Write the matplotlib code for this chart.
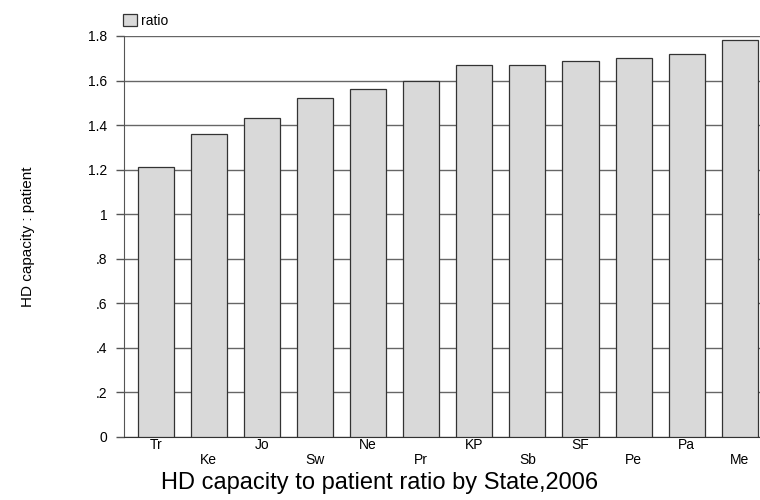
import matplotlib.pyplot as plt
import numpy as np

plt.rcParams['font.family'] = ['Liberation Sans', 'DejaVu Sans']

states = ["Tr", "Ke", "Jo", "Sw", "Ne", "Pr", "KP", "Sb", "SF", "Pe", "Pa", "Me"]
ratio = [1.21, 1.36, 1.43, 1.52, 1.56, 1.60, 1.67, 1.67, 1.69, 1.70, 1.72, 1.78]
yticks = [0, 0.2, 0.4, 0.6, 0.8, 1.0, 1.2, 1.4, 1.6, 1.8]
ytick_labels = ["0", ".2", ".4", ".6", ".8", "1", "1.2", "1.4", "1.6", "1.8"]

fig = plt.figure(figsize=(7.6, 5), dpi=100)
ax = fig.add_axes([0.163, 0.126, 0.837, 0.802])

x = np.arange(len(states))
ax.bar(x, ratio, width=0.68, color="#d9d9d9", edgecolor="#333333",
       linewidth=0.9, zorder=3, label="ratio")

ax.set_xlim(-0.6, 11.38)
ax.set_ylim(0, 1.8)
ax.set_yticks(yticks)
ax.set_yticklabels(ytick_labels, fontsize=10)
ax.set_xticks(x)
ax.set_xticklabels([s if i % 2 == 0 else "\n" + s for i, s in enumerate(states)],
                   fontsize=10, linespacing=1.1)
ax.tick_params(axis="x", length=0, pad=1)
ax.tick_params(axis="y", length=6, width=1, color="#555555", pad=6)

ax.grid(axis="y", color="#666666", linewidth=1, zorder=0)
for side in ["top", "right"]:
    ax.spines[side].set_visible(False)
ax.spines["left"].set_color("#555555")
ax.spines["bottom"].set_color("#333333")

ax.set_ylabel("HD capacity : patient", fontsize=11, labelpad=38)
fig.text(0.5, 0.035, "HD capacity to patient ratio by State,2006",
         ha="center", va="center", fontsize=17)

ax.legend(loc="lower left", bbox_to_anchor=(-0.015, 1.0), frameon=False,
          fontsize=10, handlelength=1.0, handleheight=1.0, handletextpad=0.3,
          borderaxespad=0.2)

plt.savefig("out.png", dpi=100)
